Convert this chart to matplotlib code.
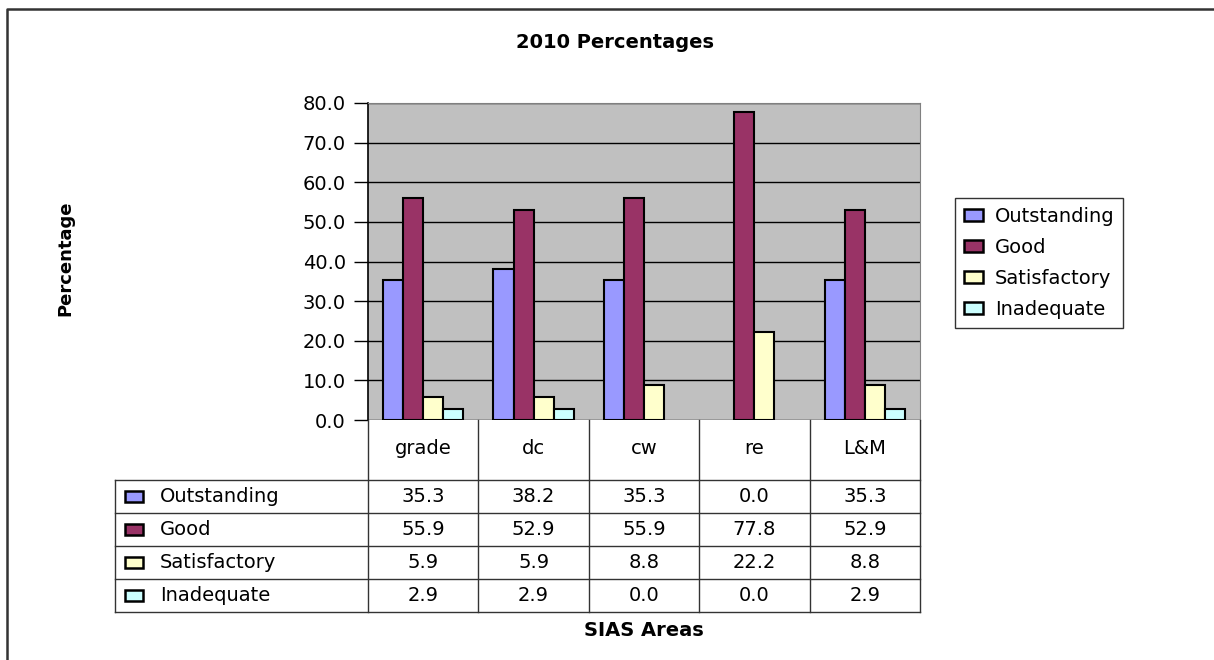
import matplotlib
matplotlib.use("Agg")
import matplotlib.pyplot as plt
from matplotlib.patches import Rectangle
import numpy as np

categories = ["grade", "dc", "cw", "re", "L&M"]
series_names = ["Outstanding", "Good", "Satisfactory", "Inadequate"]
outstanding = [35.3, 38.2, 35.3, 0.0, 35.3]
good = [55.9, 52.9, 55.9, 77.8, 52.9]
satisfactory = [5.9, 5.9, 8.8, 22.2, 8.8]
inadequate = [2.9, 2.9, 0.0, 0.0, 2.9]
yticks = [0, 10, 20, 30, 40, 50, 60, 70, 80]

series = [outstanding, good, satisfactory, inadequate]
colors = ["#9999FF", "#993366", "#FFFFCC", "#CCFFFF"]

W, H = 1214, 660
plt.rcParams["font.family"] = ["DejaVu Sans"]
fig = plt.figure(figsize=(W / 100, H / 100), dpi=100)
FS = 14

# pixel layout of the plot area
px_l, px_r, px_t, px_b = 368, 920, 103, 420
ax = fig.add_axes([px_l / W, 1 - px_b / H, (px_r - px_l) / W, (px_b - px_t) / H])
ax.set_facecolor("#C0C0C0")
n = len(categories)
ax.set_xlim(0, n)
ax.set_ylim(0, 80)
bw = 1 / 5.5
for j, (vals, c) in enumerate(zip(series, colors)):
    x = np.arange(n) + 0.5 + (j - 1.5) * bw
    lws = [1.5 if v > 0 else 0 for v in vals]
    ax.bar(x, vals, width=bw, color=c, edgecolor="black", linewidth=lws,
           label=series_names[j], zorder=3)
ax.set_yticks(yticks)
ax.set_yticklabels([f"{v:.1f}" for v in yticks], fontsize=FS)
ax.yaxis.grid(True, color="black", linewidth=1.0, zorder=1)
ax.set_axisbelow(True)
ax.set_xticks([])
ax.tick_params(axis="y", length=10, width=1, direction="out", pad=6)
for s in ["top", "right"]:
    ax.spines[s].set_color("#808080")
ax.spines["bottom"].set_visible(False)
ax.spines["left"].set_color("black")
ax.spines["left"].set_linewidth(1.2)

# overlay in pixel coordinates for table, borders and labels
ov2 = fig.add_axes([0, 0, 1, 1], zorder=5)
ov2.set_xlim(0, W)
ov2.set_ylim(H, 0)
ov2.axis("off")
ov2.patch.set_alpha(0)

# outer border
ov2.plot([7, 7, W + 5], [H + 5, 9, 9], color="#333333", linewidth=1.8)

# table
col_w = (px_r - px_l) / n
lab_l = 115
hdr_b = 480
row_h = 33
tab_b = hdr_b + row_h * len(series)
lc = "#333333"
lw = 1.0
for i in range(n + 1):
    xx = px_l + i * col_w
    ov2.plot([xx, xx], [px_b, tab_b], color=lc, linewidth=lw)
ov2.plot([lab_l, lab_l], [hdr_b, tab_b], color=lc, linewidth=lw)
for r in range(len(series) + 1):
    yy = hdr_b + r * row_h
    ov2.plot([lab_l, px_r], [yy, yy], color=lc, linewidth=lw)
for i, cat in enumerate(categories):
    ov2.text(px_l + (i + 0.5) * col_w, (px_b + hdr_b) / 2 - 1, cat, ha="center",
             va="center", fontsize=FS)
for r, (name, vals, c) in enumerate(zip(series_names, series, colors)):
    yc = hdr_b + (r + 0.5) * row_h
    ov2.add_patch(Rectangle((125, yc - 5.5), 18, 11, facecolor=c,
                            edgecolor="black", linewidth=1.8))
    ov2.text(160, yc, name, ha="left", va="center", fontsize=FS)
    for i, v in enumerate(vals):
        ov2.text(px_l + (i + 0.5) * col_w, yc, f"{v:.1f}", ha="center",
                 va="center", fontsize=FS)

# titles
ov2.text(615, 42, "2010 Percentages", ha="center", va="center",
         fontsize=14, fontweight="bold")
ov2.text(644, 630, "SIAS Areas", ha="center", va="center",
         fontsize=14, fontweight="bold")
ov2.text(65, 258, "Percentage", ha="center", va="center", rotation=90,
         fontsize=13, fontweight="bold")

# legend
handles, labels = ax.get_legend_handles_labels()
leg = fig.legend(handles, labels, loc="upper left",
                 bbox_to_anchor=(955 / W, 1 - 198 / H), fontsize=FS,
                 frameon=True, fancybox=False, edgecolor="black",
                 handlelength=1.0, handleheight=0.6, handletextpad=0.6,
                 labelspacing=0.62, borderpad=0.45, borderaxespad=0)
leg.get_frame().set_linewidth(1.0)
for h in leg.legend_handles:
    h.set_linewidth(1.8)

fig.savefig("out.png", dpi=100)
